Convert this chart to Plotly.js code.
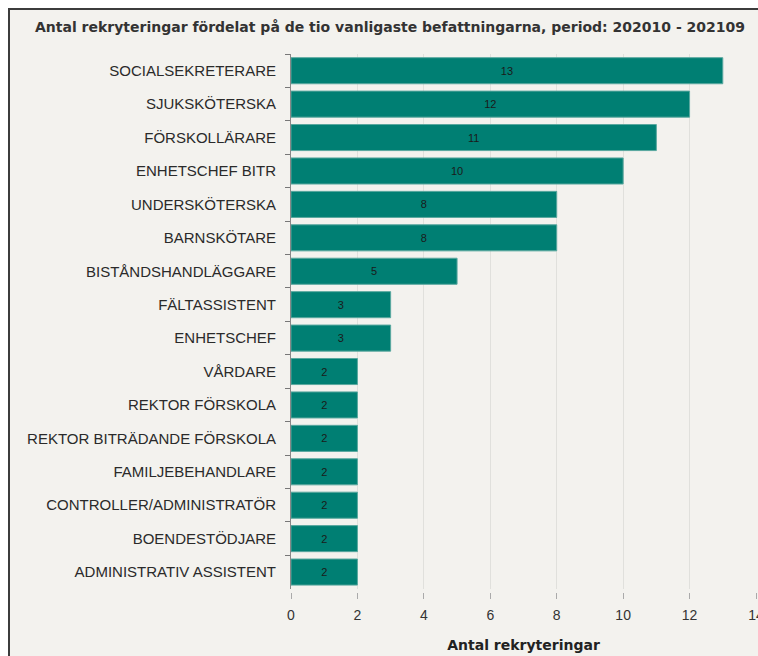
<!DOCTYPE html>
<html><head><meta charset="utf-8">
<script src="https://cdn.plot.ly/plotly-3.0.1.min.js"></script>
<style>
body{margin:0;background:#fff;overflow:hidden;}
#frame{position:absolute;left:8px;top:8px;width:760px;height:660px;border:2px solid #3c3c3c;background:#f3f2ee;overflow:hidden;}
#chart{position:absolute;left:0;top:0;width:760px;height:660px;}
</style></head><body>
<div id="frame"><div id="chart"></div></div>
<script>
const categories = ["SOCIALSEKRETERARE","SJUKSKÖTERSKA","FÖRSKOLLÄRARE","ENHETSCHEF BITR","UNDERSKÖTERSKA","BARNSKÖTARE","BISTÅNDSHANDLÄGGARE","FÄLTASSISTENT","ENHETSCHEF","VÅRDARE","REKTOR FÖRSKOLA","REKTOR BITRÄDANDE FÖRSKOLA","FAMILJEBEHANDLARE","CONTROLLER/ADMINISTRATÖR","BOENDESTÖDJARE","ADMINISTRATIV ASSISTENT"];
const values = [13,12,11,10,8,8,5,3,3,2,2,2,2,2,2,2];
const xTicks = [0,2,4,6,8,10,12,14];

const trace = {
  type:'bar', orientation:'h', x:values, y:categories,
  text:values.map(String), textposition:'inside', insidetextanchor:'middle',
  textfont:{family:'Liberation Sans, Arial, sans-serif', size:11, color:'#1a1a1a'},
  marker:{color:'#007f73', line:{color:'#5aa89f', width:1}},
  hoverinfo:'none'
};
const layout = {
  width:760, height:660,
  paper_bgcolor:'#f3f2ee', plot_bgcolor:'#f3f2ee',
  margin:{l:281, r:14, t:44, b:78},
  title:{text:'<b>Antal rekryteringar fördelat på de tio vanligaste befattningarna, period: 202010 - 202109</b>',
    font:{family:'DejaVu Sans, sans-serif', size:14, color:'#333'},
    xref:'container', x:0.5, xanchor:'center', yref:'container', y:1-17/660, yanchor:'middle'},
  bargap:0.22,
  xaxis:{range:[0,14], tickvals:xTicks, ticktext:xTicks.map(String), showgrid:true, gridcolor:'#e0e0dc', gridwidth:1,
    zeroline:false, showline:false, ticks:'outside', ticklen:6, tickcolor:'#aaa', tickwidth:1,
    anchor:'free', position:0, ticklabelstandoff:4,
    tickfont:{family:'Liberation Sans, Arial, sans-serif', size:14, color:'#333'},
    title:{text:'<b>Antal rekryteringar</b>', font:{family:'DejaVu Sans, sans-serif', size:14, color:'#222'}, standoff:18}},
  yaxis:{autorange:'reversed', domain:[0.006,1], showline:true, linecolor:'#888', linewidth:1, ticks:'outside', tickson:'boundaries',
    ticklen:5, tickcolor:'#777', showgrid:false, ticklabelstandoff:11,
    tickfont:{family:'Liberation Sans, Arial, sans-serif', size:15, color:'#2a2a2a'}},
  showlegend:false
};
Plotly.newPlot('chart',[trace],layout,{displayModeBar:false,staticPlot:true});
</script></body></html>
